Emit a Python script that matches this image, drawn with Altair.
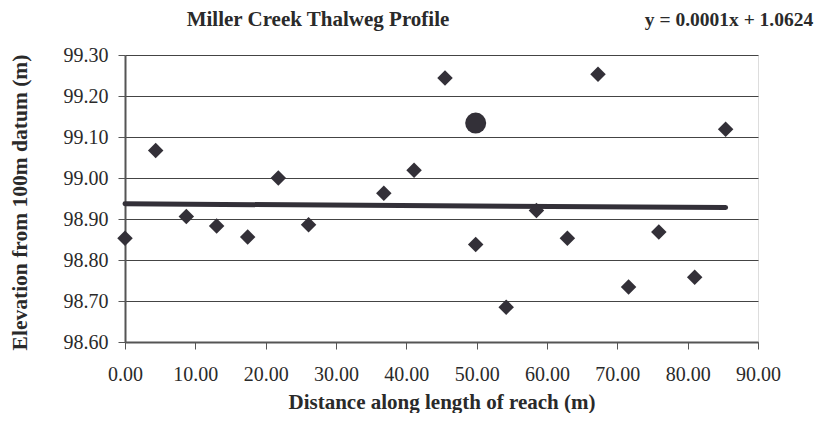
import altair as alt
import pandas as pd

# Diamond series (thalweg survey points)
dist = [0.0, 4.36, 8.72, 13.03, 17.44, 21.8, 26.1, 36.8, 41.1, 45.5,
        49.86, 54.2, 58.5, 62.9, 67.25, 71.6, 75.9, 81.0, 85.4]
elev = [98.853, 99.067, 98.906, 98.883, 98.856, 99.000, 98.886, 98.963, 99.019, 99.244,
        98.838, 98.685, 98.921, 98.853, 99.253, 98.734, 98.868, 98.758, 99.119]

# Highlighted point (circle)
hl_dist = [49.86]
hl_elev = [99.134]

# Linear trend line endpoints
trend_x = [0.0, 85.4]
trend_y = [98.937, 98.928]

x_ticks = [0, 10, 20, 30, 40, 50, 60, 70, 80, 90]
y_ticks = [98.6, 98.7, 98.8, 98.9, 99.0, 99.1, 99.2, 99.3]

title_text = "Miller Creek Thalweg Profile"
eq_text = "y = 0.0001x + 1.0624"

FONT = "Liberation Serif"
DARK = "#333038"
TXT = "#2a2a2a"

pts = pd.DataFrame({"x": dist, "y": elev})
hl = pd.DataFrame({"x": hl_dist, "y": hl_elev})
tr = pd.DataFrame({"x": trend_x, "y": trend_y})

xscale = alt.Scale(domain=[0, 90], nice=False, zero=False)
yscale = alt.Scale(domain=[98.6, 99.3], nice=False, zero=False)

xaxis = alt.Axis(values=x_ticks, format=".2f", title="Distance along length of reach (m)",
                 grid=False, labelFont=FONT, labelFontSize=20, labelColor=TXT,
                 labelFlush=False, labelOverlap=False,
                 titleFont=FONT, titleFontSize=21, titleFontWeight="bold", titleColor=TXT,
                 titleY=60, titleBaseline="middle",
                 labelPadding=15, tickSize=7, tickColor="#555",
                 domainColor="#555", domainWidth=2)
yaxis = alt.Axis(values=y_ticks, format=".2f", title="Elevation from 100m datum (m)",
                 grid=True, gridColor="#444", gridWidth=1,
                 labelFont=FONT, labelFontSize=20, labelColor=TXT,
                 labelFlush=False, labelOverlap=False,
                 titleFont=FONT, titleFontSize=21.5, titleFontWeight="bold", titleColor=TXT,
                 titleX=-105, titleY=147, titleAngle=270, titleAlign="center",
                 titleBaseline="middle",
                 labelPadding=10, tickSize=7, tickColor="#555",
                 domainColor="#555", domainWidth=2)

base_pts = alt.Chart(pts).mark_point(shape="diamond", filled=True, size=240,
                                     color=DARK, opacity=1).encode(
    x=alt.X("x:Q", scale=xscale, axis=xaxis),
    y=alt.Y("y:Q", scale=yscale, axis=yaxis),
)

circle = alt.Chart(hl).mark_point(shape="circle", filled=True, size=441,
                                  color=DARK, opacity=1).encode(
    x=alt.X("x:Q", scale=xscale),
    y=alt.Y("y:Q", scale=yscale),
)

trend = alt.Chart(tr).mark_line(color=DARK, strokeWidth=5, strokeCap="round").encode(
    x=alt.X("x:Q", scale=xscale),
    y=alt.Y("y:Q", scale=yscale),
)

title = alt.Chart(pd.DataFrame({"t": [title_text]})).mark_text(
    font=FONT, fontSize=21, fontWeight="bold", color=TXT, align="center", baseline="middle"
).encode(x=alt.value(193), y=alt.value(-35), text="t:N")

eq = alt.Chart(pd.DataFrame({"t": [eq_text]})).mark_text(
    font=FONT, fontSize=19.5, fontWeight="bold", color=TXT, align="center", baseline="middle"
).encode(x=alt.value(604), y=alt.value(-35), text="t:N")

chart = alt.layer(trend, base_pts, circle, title, eq).properties(
    width=633, height=287,
    autosize=alt.AutoSizeParams(type="none"),
    padding={"left": 117, "top": 47, "right": 62, "bottom": 71},
).configure_view(stroke="#9a9391", strokeWidth=2).configure(background="white")

chart.save("out.html", embed_options={"renderer": "svg", "actions": False})
